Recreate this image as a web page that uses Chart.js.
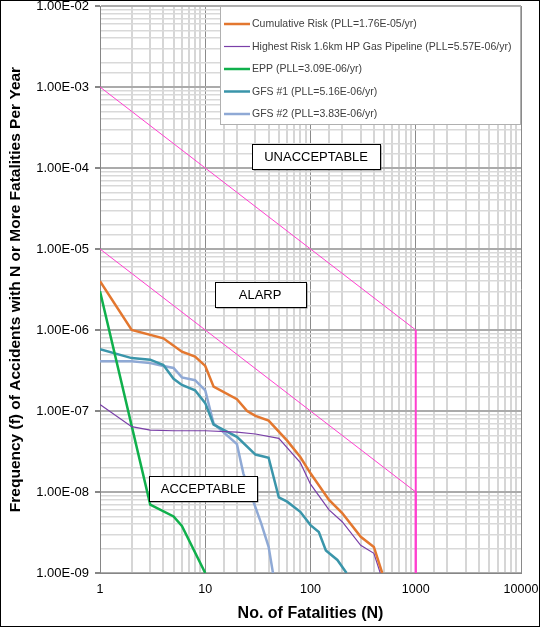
<!DOCTYPE html>
<html>
<head>
<meta charset="utf-8">
<script src="https://cdn.jsdelivr.net/npm/chart.js@4.4.1/dist/chart.umd.min.js"></script>
<style>
  html, body { margin: 0; padding: 0; background: #fff; }
  #wrap { width: 542px; height: 629px; position: relative; }
</style>
</head>
<body>
<div id="wrap"><canvas id="c"></canvas></div>
<script>
// ---- Data ----
const seriesLabels = [
  'Cumulative Risk (PLL=1.76E-05/yr)',
  'Highest Risk 1.6km HP Gas Pipeline (PLL=5.57E-06/yr)',
  'EPP (PLL=3.09E-06/yr)',
  'GFS #1 (PLL=5.16E-06/yr)',
  'GFS #2 (PLL=3.83E-06/yr)'
];

const nCumulative = [1, 2, 4, 6, 8, 10, 12, 20, 25, 30, 40, 60, 80, 100, 150, 200, 300, 400, 480];
const fCumulative = [4.0e-6, 1.0e-6, 7.9e-7, 5.4e-7, 4.7e-7, 3.6e-7, 2.0e-7, 1.4e-7, 1.0e-7, 8.7e-8, 7.6e-8, 4.3e-8, 2.7e-8, 1.7e-8, 8.0e-9, 5.5e-9, 2.8e-9, 2.1e-9, 1.0e-9];

const nPipeline = [1, 2, 3, 5, 10, 20, 30, 50, 80, 100, 150, 200, 300, 400, 460];
const fPipeline = [1.2e-7, 6.4e-8, 5.8e-8, 5.7e-8, 5.7e-8, 5.5e-8, 5.2e-8, 4.6e-8, 2.3e-8, 1.25e-8, 6.0e-9, 4.3e-9, 2.2e-9, 1.75e-9, 1.0e-9];

const nEPP = [1, 3, 5, 6, 10];
const fEPP = [3.0e-6, 7.0e-9, 5.0e-9, 3.8e-9, 1.0e-9];

const nGFS1 = [1, 2, 3, 4, 5, 6, 8, 10, 12, 20, 30, 40, 50, 60, 80, 100, 120, 140, 180, 220];
const fGFS1 = [5.8e-7, 4.5e-7, 4.3e-7, 3.7e-7, 2.5e-7, 2.1e-7, 1.8e-7, 1.25e-7, 6.8e-8, 4.8e-8, 2.9e-8, 2.65e-8, 8.6e-9, 7.6e-9, 5.7e-9, 3.9e-9, 3.2e-9, 1.9e-9, 1.45e-9, 1.0e-9];

const nGFS2 = [1, 2, 3, 4, 5, 6, 8, 10, 12, 20, 23, 34, 40, 44];
const fGFS2 = [4.1e-7, 4.1e-7, 3.9e-7, 3.6e-7, 3.4e-7, 2.6e-7, 2.4e-7, 1.8e-7, 7.0e-8, 3.9e-8, 1.7e-8, 4.1e-9, 2.1e-9, 1.0e-9];

// Criterion lines (upper / lower)
const nCriteria = [1, 1000, 1000];
const fUpper = [1e-3, 1e-6, 1e-9];
const fLower = [1e-5, 1e-8, 1e-9];

// Region annotations (text, N, f at centre)
const regionTexts = ['UNACCEPTABLE', 'ALARP', 'ACCEPTABLE'];
const regionN = [113, 33.2, 9.58];
const regionF = [1.4e-4, 2.74e-6, 1.11e-8];

// Axis settings
const xMin = 1, xMax = 10000;
const yMin = 1e-9, yMax = 1e-2;

// ---- Styling ----
const colors = ['#E3772F', '#7A3FA8', '#10B04C', '#3A95AA', '#8FA9D5'];
const widths = [2.5, 1.2, 2.5, 2.5, 2.5];
const critColor = '#FF3FCF';
const FONT = '"Liberation Sans", Arial, sans-serif';

function pts(n, f) { return n.map((v, i) => ({ x: v, y: f[i] })); }
function isMajor(v) {
  const l = Math.log10(v);
  return Math.abs(l - Math.round(l)) < 1e-6;
}
function fmtExp(v) {
  const e = Math.round(Math.log10(v));
  const s = e < 0 ? '-' : '+';
  const a = Math.abs(e);
  return '1.00E' + s + (a < 10 ? '0' + a : '' + a);
}

const seriesData = [
  pts(nCumulative, fCumulative),
  pts(nPipeline, fPipeline),
  pts(nEPP, fEPP),
  pts(nGFS1, fGFS1),
  pts(nGFS2, fGFS2)
];

const datasets = seriesData.map((d, i) => ({
  label: seriesLabels[i],
  data: d,
  borderColor: colors[i],
  backgroundColor: colors[i],
  borderWidth: widths[i],
  pointRadius: 0,
  fill: false,
  tension: 0,
  order: i
}));

const critSegment = {
  borderWidth: ctx => (ctx.p0.parsed.x === ctx.p1.parsed.x ? 2 : 1)
};
datasets.push({
  label: 'upper', data: pts(nCriteria, fUpper), borderColor: critColor,
  borderWidth: 1, pointRadius: 0, fill: false, order: 10, segment: critSegment
});
datasets.push({
  label: 'lower', data: pts(nCriteria, fLower), borderColor: critColor,
  borderWidth: 1, pointRadius: 0, fill: false, order: 11, segment: critSegment
});

// ---- Plugins ----
const bgPlugin = {
  id: 'bg',
  beforeDraw(chart) {
    const c = chart.ctx;
    c.save();
    c.fillStyle = '#fff';
    c.fillRect(0, 0, chart.width, chart.height);
    c.restore();
  }
};

const annotPlugin = {
  id: 'regions',
  afterDatasetsDraw(chart) {
    const c = chart.ctx;
    const xs = chart.scales.x, ys = chart.scales.y;
    const boxW = [128, 91, 108];
    const boxH = 25;
    c.save();
    c.font = '13px ' + FONT;
    c.textAlign = 'center';
    c.textBaseline = 'middle';
    regionTexts.forEach((t, i) => {
      const cx = xs.getPixelForValue(regionN[i]);
      const cy = ys.getPixelForValue(regionF[i]);
      const x0 = Math.round(cx - boxW[i] / 2) + 0.5;
      const y0 = Math.round(cy - boxH / 2) + 0.5;
      c.fillStyle = '#7f7f7f';
      c.fillRect(x0 + 1, y0 + 1, boxW[i], boxH);
      c.fillStyle = '#fff';
      c.fillRect(x0, y0, boxW[i], boxH);
      c.strokeStyle = '#000';
      c.lineWidth = 1;
      c.strokeRect(x0, y0, boxW[i], boxH);
      c.fillStyle = '#000';
      c.fillText(t, cx, cy + 1);
    });
    c.restore();
  }
};

const legendPlugin = {
  id: 'legendBox',
  afterDatasetsDraw(chart) {
    const c = chart.ctx;
    const area = chart.chartArea;
    const left = 220.5, top = area.top + 0.5, right = area.right - 0.5, bottom = 124.5;
    c.save();
    c.fillStyle = '#fff';
    c.fillRect(left, top, right - left, bottom - top);
    c.strokeStyle = '#b0b0b0';
    c.lineWidth = 1;
    c.strokeRect(left, top, right - left, bottom - top);
    c.font = '10.5px ' + FONT;
    c.textBaseline = 'middle';
    c.textAlign = 'left';
    const rowY = [24, 46.5, 69, 91.5, 114];
    chart.data.datasets.slice(0, 5).forEach((ds, i) => {
      const y = rowY[i];
      c.strokeStyle = ds.borderColor;
      c.lineWidth = ds.borderWidth;
      c.beginPath();
      c.moveTo(224, y);
      c.lineTo(250, y);
      c.stroke();
      c.fillStyle = '#404040';
      c.fillText(ds.label, 252, y + 0.5);
    });
    c.restore();
  }
};

const framePlugin = {
  id: 'frame',
  afterDraw(chart) {
    const c = chart.ctx;
    c.save();
    c.strokeStyle = '#000';
    c.lineWidth = 1;
    c.strokeRect(0.5, 0.5, 539, 626);
    c.restore();
  }
};

// ---- Chart ----
new Chart(document.getElementById('c'), {
  type: 'line',
  data: { datasets },
  options: {
    responsive: true,
    maintainAspectRatio: false,
    animation: false,
    layout: { padding: { left: 0, top: 6, right: 21, bottom: 0 } },
    plugins: { legend: { display: false }, tooltip: { enabled: false } },
    scales: {
      x: {
        type: 'logarithmic',
        min: xMin, max: xMax,
        afterFit(s) { s.height = 56; s.paddingLeft = 0; s.paddingRight = 0; },
        border: { display: true, color: '#868686', width: 1 },
        grid: {
          drawTicks: false,
          color: ctx => (ctx.tick && isMajor(ctx.tick.value) ? '#8a8a8a' : '#d6d6d6'),
          lineWidth: ctx => (ctx.tick && isMajor(ctx.tick.value) ? 1 : 2)
        },
        ticks: {
          autoSkip: false, maxRotation: 0, padding: 9,
          color: '#000', font: { family: FONT, size: 12.5 },
          callback: v => (isMajor(v) ? String(Math.round(v)) : '')
        },
        title: {
          display: true, text: 'No. of Fatalities (N)', color: '#000',
          font: { family: FONT, size: 16, weight: 'bold' },
          padding: { top: 6, bottom: 6 }
        }
      },
      y: {
        type: 'logarithmic',
        min: yMin, max: yMax,
        afterFit(s) { s.width = 100; s.paddingTop = 0; s.paddingBottom = 0; },
        border: { display: true, color: '#868686', width: 1 },
        grid: {
          tickLength: 5,
          color: ctx => (ctx.tick && isMajor(ctx.tick.value) ? '#ababab' : '#d9d9d9'),
          tickColor: ctx => (ctx.tick && isMajor(ctx.tick.value) ? '#868686' : 'rgba(0,0,0,0)'),
          lineWidth: ctx => (ctx.tick && isMajor(ctx.tick.value) ? 2 : 1.5)
        },
        ticks: {
          autoSkip: false, padding: 6,
          color: '#000', font: { family: FONT, size: 13 },
          callback: v => (isMajor(v) ? fmtExp(v) : '')
        },
        title: {
          display: true, text: 'Frequency (f) of Accidents with N or More Fatalities Per Year',
          color: '#000', font: { family: FONT, size: 15.5, weight: 'bold' },
          padding: { top: 6, bottom: 0 }
        }
      }
    }
  },
  plugins: [bgPlugin, annotPlugin, legendPlugin, framePlugin]
});
</script>
</body>
</html>
